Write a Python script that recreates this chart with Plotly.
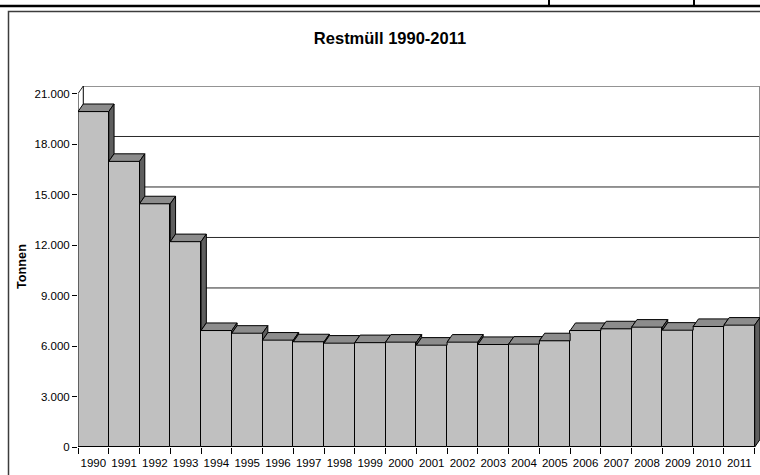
import plotly.graph_objects as go

# Annual residual waste (tonnes)
years = ["1990", "1991", "1992", "1993", "1994", "1995", "1996", "1997", "1998", "1999", "2000",
         "2001", "2002", "2003", "2004", "2005", "2006", "2007", "2008", "2009", "2010", "2011"]
tonnen = [19930, 16970, 14450, 12200, 6920, 6760, 6350, 6250, 6170, 6200, 6230,
          6050, 6230, 6090, 6110, 6310, 6920, 7020, 7120, 6940, 7160, 7240]
y_ticks = [0, 3000, 6000, 9000, 12000, 15000, 18000, 21000]
y_tick_text = ["0", "3.000", "6.000", "9.000", "12.000", "15.000", "18.000", "21.000"]
chart_title = "Restmüll 1990-2011"
y_title = "Tonnen"

W, H = 760, 475
ML, MR, MT, MB = 78, 0, 86, 28
PW, PH = W - ML - MR, H - MT - MB
FONT = "Arial, Liberation Sans, sans-serif"

n = len(tonnen)
x_idx = list(range(n))
DX = 0.172          # oblique depth of the columns, in category units
DY = 450            # oblique depth of the columns, in value units
y_top = y_ticks[-1]

FRONT = "#C0C0C0"
TOP = "#8C8C8C"
SIDE = "#5E5E5E"


def px_x(p):
    return (p - ML) / PW


def px_y(p):
    return (H - MB - p) / PH


fig = go.Figure()

# front faces
fig.add_trace(go.Bar(
    x=x_idx, y=tonnen, width=1,
    marker=dict(color=FRONT, line=dict(color="black", width=1)),
    hoverinfo="skip", showlegend=False,
))

# visible parts of the top and right-hand faces of each column
for i, v in enumerate(tonnen):
    nxt = tonnen[i + 1] if i + 1 < n else 0
    xr = i + 0.5
    c = min(max(nxt, v), v + DY)
    top_x = [i - 0.5, xr, xr, xr + (v + DY - c) / DY * DX, i - 0.5 + DX, i - 0.5]
    top_y = [v, v, c, v + DY, v + DY, v]
    fig.add_trace(go.Scatter(
        x=top_x, y=top_y, mode="lines", fill="toself", fillcolor=TOP,
        line=dict(color="black", width=1), hoverinfo="skip", showlegend=False,
    ))
    if nxt < v:
        side_x = [xr, xr, xr + DX, xr + DX, xr]
        side_y = [nxt, v, v + DY, nxt + DY, nxt]
        fig.add_trace(go.Scatter(
            x=side_x, y=side_y, mode="lines", fill="toself", fillcolor=SIDE,
            line=dict(color="black", width=1), hoverinfo="skip", showlegend=False,
        ))

shapes = []
# back wall gridlines and left wall connectors
for v in y_ticks:
    shapes.append(dict(type="line", xref="x", yref="y", layer="below",
                       x0=-0.5 + DX, x1=n - 0.5 + DX, y0=v + DY, y1=v + DY,
                       line=dict(color="#2a2a2a", width=1)))
    shapes.append(dict(type="line", xref="x", yref="y", layer="below",
                       x0=-0.5, x1=-0.5 + DX, y0=v, y1=v + DY,
                       line=dict(color="#2a2a2a", width=1)))
# wall edges and the value axis
shapes.append(dict(type="line", xref="x", yref="y", layer="below",
                   x0=-0.5 + DX, x1=-0.5 + DX, y0=DY, y1=y_top + DY,
                   line=dict(color="black", width=1)))
shapes.append(dict(type="line", xref="x", yref="y", layer="below",
                   x0=n - 0.5 + DX, x1=n - 0.5 + DX, y0=DY, y1=y_top + DY,
                   line=dict(color="#8a8a8a", width=2)))
shapes.append(dict(type="line", xref="x", yref="y", layer="above",
                   x0=-0.5, x1=-0.5, y0=0, y1=y_top,
                   line=dict(color="black", width=1)))

# chart frame and the page rule above it
shapes.append(dict(type="rect", xref="paper", yref="paper",
                   x0=px_x(8.5), x1=px_x(820), y0=px_y(11.5), y1=px_y(540),
                   line=dict(color="#3c3c3c", width=1.5)))
shapes.append(dict(type="line", xref="paper", yref="paper",
                   x0=px_x(0), x1=px_x(W), y0=px_y(6), y1=px_y(6),
                   line=dict(color="black", width=2.5)))
for xp in (549, 694):
    shapes.append(dict(type="line", xref="paper", yref="paper",
                       x0=px_x(xp), x1=px_x(xp), y0=px_y(0), y1=px_y(6),
                       line=dict(color="black", width=2)))

fig.update_layout(
    width=W, height=H,
    margin=dict(l=ML, r=MR, t=MT, b=MB, pad=0),
    paper_bgcolor="white", plot_bgcolor="white",
    bargap=0,
    font=dict(family=FONT, size=11.5, color="black"),
    title=dict(text="<b>" + chart_title + "</b>", x=390 / W, xref="container", xanchor="center",
               y=1 - 38 / H, yref="container", yanchor="middle",
               font=dict(family=FONT, size=16.5, color="black")),
    xaxis=dict(
        range=[-0.5, n - 0.5 + DX], tickmode="array", tickvals=x_idx, ticktext=years,
        ticks="outside", ticklen=5, tickcolor="rgba(0,0,0,0)",
        showgrid=False, zeroline=False, showline=False, fixedrange=True,
        tickfont=dict(family=FONT, size=11.5, color="black"),
        minor=dict(tickmode="array", tickvals=[i - 0.5 for i in range(n + 1)],
                   ticks="outside", ticklen=6, tickwidth=1, tickcolor="black", showgrid=False),
    ),
    yaxis=dict(
        range=[0, y_top + DY], tickmode="array", tickvals=y_ticks, ticktext=y_tick_text,
        ticks="outside", ticklen=5, tickwidth=1, tickcolor="black",
        showgrid=False, zeroline=False, showline=False, fixedrange=True,
        tickfont=dict(family=FONT, size=11.5, color="black"),
        title=dict(text="<b>" + y_title + "</b>", standoff=5,
                   font=dict(family=FONT, size=12.7, color="black")),
    ),
    shapes=shapes,
)

fig.write_html("out.html")
